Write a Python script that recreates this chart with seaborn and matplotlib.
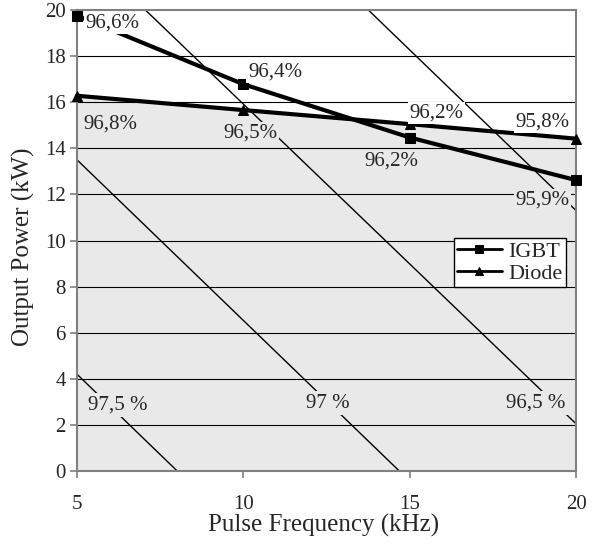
import numpy as np
import pandas as pd
import matplotlib
matplotlib.use("Agg")
import matplotlib.pyplot as plt
import seaborn as sns

# ---- data ----
freq = [5, 10, 15, 20]
igbt_power = [19.75, 16.78, 14.47, 12.62]
diode_power = [16.28, 15.66, 15.05, 14.42]
igbt_eff = ["96,6%", "96,4%", "96,2%", "95,9%"]
diode_eff = ["96,8%", "96,5%", "96,2%", "95,8%"]

# iso-efficiency lines (power at 5 kHz and at 20 kHz)
iso_names = ["97,5 %", "97 %", "96,5 %", ""]
iso_p_at5 = [4.2, 13.5, 22.85, 32.2]
iso_p_at20 = [-16.7, -7.4, 2.05, 11.3]

# ---- layout (label positions) ----
igbt_lbl_xy = [(6.05, 19.43), (10.95, 17.3), (14.44, 13.45), (19.0, 11.76)]
diode_lbl_xy = [(6.0, 15.05), (10.2, 14.66), (15.8, 15.53), (19.0, 15.14)]
iso_lbl_xy = [(6.23, 2.86), (12.55, 2.95), (18.77, 2.95)]

sns.set_style("white")
plt.rcParams['font.family'] = ['Liberation Serif', 'DejaVu Serif']

GRAY = '#e9e9e9'
TFS = 15   # tick labels
AFS = 18   # axis labels
LFS = 15   # data labels
GFS = 16   # legend

fig = plt.figure(figsize=(6.02, 5.44), dpi=100)
ax = fig.add_axes([0.128, 0.134, 0.829, 0.8476])

df = pd.DataFrame({
    "freq": freq * 2,
    "power": igbt_power + diode_power,
    "series": ["IGBT"] * 4 + ["Diode"] * 4,
})

# gray background under the Diode curve
ax.fill_between(freq, 0, diode_power, color=GRAY, zorder=0, lw=0)

# grid lines
for yv in range(2, 20, 2):
    ax.axhline(yv, color='black', lw=0.8, zorder=1)

# iso-efficiency diagonals
for p5, p20 in zip(iso_p_at5, iso_p_at20):
    ax.plot([5, 20], [p5, p20], color='black', lw=1.0, zorder=2)

sns.lineplot(data=df, x="freq", y="power", hue="series", style="series",
             markers={"IGBT": "s", "Diode": "^"}, dashes=False,
             palette={"IGBT": "black", "Diode": "black"},
             linewidth=3.0, markersize=6.5, markeredgecolor='black',
             ax=ax, zorder=3, clip_on=False)

# data labels
def bg(x, y):
    return GRAY if y < np.interp(x, freq, diode_power) else 'white'

for (x, y), t in zip(igbt_lbl_xy, igbt_eff):
    ax.text(x, y, t, ha='center', va='center', fontsize=LFS, zorder=5,
            bbox=dict(facecolor=bg(x, y), edgecolor='none', pad=1.0))
for (x, y), t in zip(diode_lbl_xy, diode_eff):
    ax.text(x, y, t, ha='center', va='center', fontsize=LFS, zorder=5,
            bbox=dict(facecolor=bg(x, y), edgecolor='none', pad=1.0))
for (x, y), t in zip(iso_lbl_xy, iso_names):
    ax.text(x, y, t, ha='center', va='center', fontsize=LFS, zorder=5,
            bbox=dict(facecolor=GRAY, edgecolor='none', pad=2.0))

ax.set_xlim(5, 20)
ax.set_ylim(0, 20)
ax.set_xticks([5, 10, 15, 20])
ax.set_yticks(range(0, 21, 2))
ax.tick_params(axis='both', labelsize=TFS, direction='out', length=5,
               width=1.2, color='#808080', left=True, bottom=True)
ax.tick_params(axis='x', pad=12)
ax.tick_params(axis='y', pad=3)
for s in ax.spines.values():
    s.set_color('#808080')
    s.set_linewidth(1.5)
    s.set_visible(True)

ax.set_xlabel("Pulse Frequency (kHz)", fontsize=AFS)
ax.set_ylabel("Output Power (kW)", fontsize=AFS)
ax.xaxis.set_label_coords(0.493, -0.092)
ax.yaxis.set_label_coords(-0.084, 0.486)

leg = ax.legend(loc='upper left', bbox_to_anchor=(0.755, 0.505), fontsize=GFS,
                frameon=True, fancybox=False, edgecolor='black', framealpha=1,
                borderpad=0.15, handlelength=2.0, handletextpad=0.3,
                labelspacing=0.05, borderaxespad=0)
leg.get_frame().set_linewidth(1.0)
for h in leg.get_lines():
    h.set_linewidth(2.0)
    h.set_markersize(6)
leg.set_zorder(6)

fig.savefig("out.png", dpi=100)
